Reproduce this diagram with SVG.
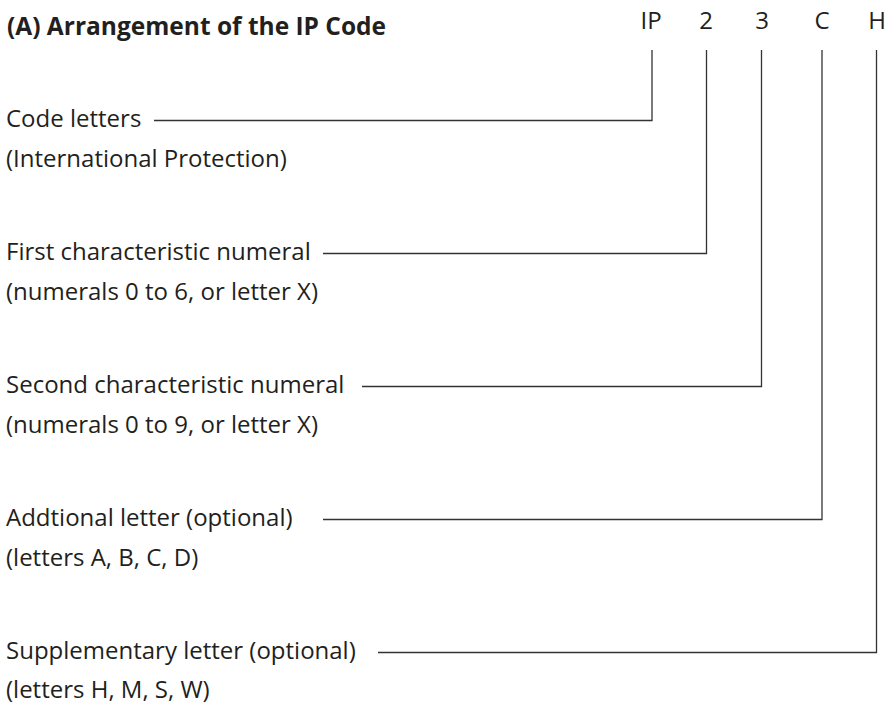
<svg xmlns="http://www.w3.org/2000/svg" width="893" height="707" viewBox="0 0 893 707">
<style>
text{font-family:"Open Sans","Noto Sans","Liberation Sans",sans-serif;fill:#231f20;font-size:24px}
.t{font-weight:bold;font-size:24.5px}
.c{text-anchor:middle}
.ln{fill:none;stroke:#333;stroke-width:1.3}
</style>
<rect width="893" height="707" fill="#fff"/>
<text class="t" x="7" y="35">(A) Arrangement of the IP Code</text>
<g id="code">
<text class="c" x="651" y="29">IP</text>
<text class="c" x="706" y="29">2</text>
<text class="c" x="762" y="29">3</text>
<text class="c" x="822" y="29">C</text>
<text class="c" x="877" y="29">H</text>
</g>
<g id="n1"><text x="6" y="127">Code letters</text><text x="6" y="167">(International Protection)</text></g>
<g id="n2"><text x="6" y="260">First characteristic numeral</text><text x="6" y="300">(numerals 0 to 6, or letter X)</text></g>
<g id="n3"><text x="6" y="393">Second characteristic numeral</text><text x="6" y="433">(numerals 0 to 9, or letter X)</text></g>
<g id="n4"><text x="6" y="526">Addtional letter (optional)</text><text x="6" y="566">(letters A, B, C, D)</text></g>
<g id="n5"><text x="6" y="659">Supplementary letter (optional)</text><text x="6" y="698">(letters H, M, S, W)</text></g>
<g id="connectors">
<polyline class="ln" points="154,120.5 652,120.5 652,50"/>
<polyline class="ln" points="323,253.5 706.5,253.5 706.5,50"/>
<polyline class="ln" points="362,386.5 761.5,386.5 761.5,50"/>
<polyline class="ln" points="323,519.5 822,519.5 822,50"/>
<polyline class="ln" points="378,652.5 876.5,652.5 876.5,50"/>
</g>
</svg>
